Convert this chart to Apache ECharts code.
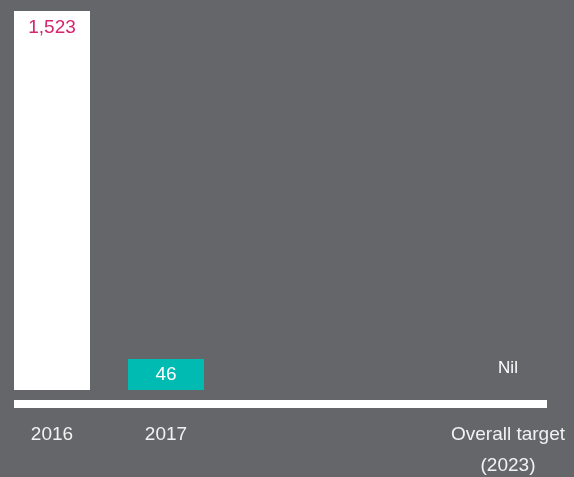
<!DOCTYPE html>
<html>
<head>
<meta charset="utf-8">
<script src="https://cdn.jsdelivr.net/npm/echarts@6/dist/echarts.min.js"></script>
<style>
  html, body { margin: 0; padding: 0; background: #65666a; }
  #main { width: 574px; height: 477px; }
</style>
</head>
<body>
<div id="main"></div>
<script>
// categories (empty slots keep the spacing of the original layout)
var categories = ['2016', '2017', '', '', 'Overall target\n(2023)'];
var values = [1523, 46, null, null, 0];

var barColors = ['#ffffff', '#00bbb1', null, null, 'transparent'];

var chartDom = document.getElementById('main');
var myChart = echarts.init(chartDom);

var seriesData = values.map(function (v, i) {
  if (v === null) return '-';
  var item = { value: v, itemStyle: { color: barColors[i] } };
  if (i === 0) {
    item.label = { position: 'insideTop', distance: 7, color: '#d6246e' };
  } else if (v === 0) {
    item.label = { position: 'inside', offset: [0, -6], color: '#ffffff', fontSize: 17 };
  }
  return item;
});

var option = {
  backgroundColor: '#65666a',
  animation: false,
  grid: {
    left: -5,
    right: 9,
    top: 11,
    bottom: 87,
    outerBoundsMode: 'none',
    containLabel: false
  },
  xAxis: {
    type: 'category',
    data: categories,
    axisLine: { show: false },
    axisTick: { show: false },
    axisLabel: {
      interval: 0,
      margin: 29,
      color: '#f2f2f2',
      fontSize: 19,
      lineHeight: 31,
      fontFamily: 'Liberation Sans, Arial, sans-serif'
    }
  },
  yAxis: {
    type: 'value',
    min: 0,
    max: 1523,
    show: false,
    splitLine: { show: false }
  },
  series: [
    {
      type: 'bar',
      data: seriesData,
      barWidth: 76,
      barMinHeight: 31,
      label: {
        show: true,
        position: 'inside',
        color: '#ffffff',
        fontSize: 19,
        fontFamily: 'Liberation Sans, Arial, sans-serif',
        formatter: function (p) {
          if (p.value === 0) return 'Nil';
          return p.value.toLocaleString('en-US');
        }
      }
    }
  ],
  graphic: [
    {
      type: 'rect',
      left: 14,
      top: 400,
      shape: { width: 533, height: 8 },
      style: { fill: '#ffffff' }
    }
  ]
};

option && myChart.setOption(option);
</script>
</body>
</html>
